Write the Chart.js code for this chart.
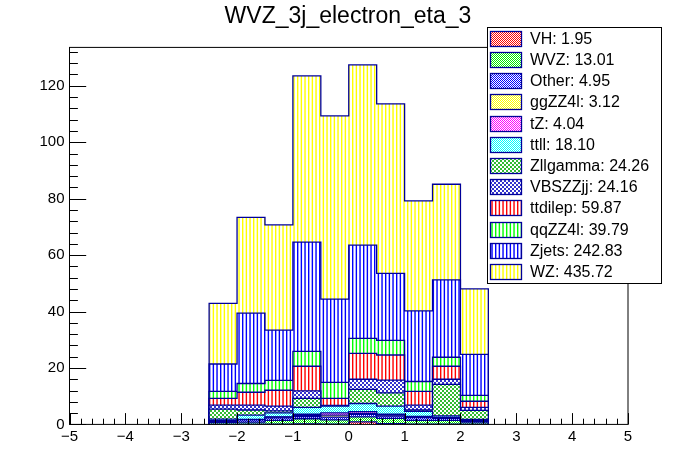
<!DOCTYPE html>
<html><head><meta charset="utf-8">
<script src="https://cdn.jsdelivr.net/npm/chart.js@4.4.1/dist/chart.umd.min.js"></script>
<style>html,body{margin:0;padding:0;background:#fff;}canvas{display:block}</style>
</head><body>
<canvas id="c" width="696" height="472" style="width:696px;height:472px"></canvas>
<script>
// ---- data ----
const titleText = 'WVZ_3j_electron_eta_3';
const binEdges = [-2.5,-2,-1.5,-1,-0.5,0,0.5,1,1.5,2,2.5];
const VH       = [0.1,0.1,0.1,0.2,0.1,0.9,0.3,0.1,0.1,0.1];
const WVZ      = [0.6,0.7,1.3,1.8,1.5,1.8,1.8,1.3,1.3,0.7];
const Other    = [0.4,0.8,0.9,0.8,1.0,0.9,0.8,1.0,0.7,0.3];
const ggZZ4l   = [0.1,0.1,0.3,0.4,0.7,0.3,0.4,0.2,0.2,0.1];
const tZ       = [0.1,0.1,0.1,0.4,0.8,0.6,0.3,0.2,0.2,0.1];
const ttll     = [0.6,1.5,1.4,2.4,2.4,2.9,2.9,1.8,0.5,0.5];
const Zllgamma = [3.5,1.8,0.7,3.2,0.1,5.0,4.7,0.5,11.2,3.2];
const VBSZZjj  = [1.4,1.7,1.7,2.7,0.1,3.6,4.5,1.7,1.8,1.0];
const ttdilep  = [2.4,4.6,5.6,8.7,2.5,9.2,8.9,4.9,4.6,2.2];
const qqZZ4l   = [2.5,3.1,3.5,5.3,5.7,5.3,5.2,3.5,3.2,2.1];
const Zjets    = [9.7,24.9,17.8,38.7,29.5,33.0,23.7,25.0,27.4,14.5];
const WZ       = [21.5,34.0,37.3,58.9,64.9,63.9,60.1,39.0,33.9,23.2];
const seriesNames = ['VH','WVZ','Other','ggZZ4l','tZ','ttll','Zllgamma','VBSZZjj','ttdilep','qqZZ4l','Zjets','WZ'];
const legendTotals = ['1.95','13.01','4.95','3.12','4.04','18.10','24.26','24.16','59.87','39.79','242.83','435.72'];
const xTickValues = [-5,-4,-3,-2,-1,0,1,2,3,4,5];
const xTickLabels = ['\u22125','\u22124','\u22123','\u22122','\u22121','0','1','2','3','4','5'];
const yTickValues = [0,20,40,60,80,100,120];
const yTickLabels = ['0','20','40','60','80','100','120'];

// ---- styles ----
const fillKinds  = ['check1','check1','check1','check1','check1','check1','check2','check2','vline','vline','vline','vline'];
const fillColors = ['#ff0000','#00ee00','#0000ff','#ffff00','#ff00ff','#00ffff','#33bb33','#3333cc','#ff0000','#00ff00','#0000ff','#ffff00'];
const outline = '#000099';
const FONT = "'Liberation Sans', Arial, Helvetica, sans-serif";

function makePattern(kind, color) {
  const c = document.createElement('canvas');
  let w = 2, h = 2;
  if (kind === 'check2') { w = 4; h = 4; }
  if (kind === 'vline') { w = 11; h = 4; }
  c.width = w; c.height = h;
  const g = c.getContext('2d');
  g.fillStyle = '#ffffff'; g.fillRect(0, 0, w, h);
  g.fillStyle = color;
  if (kind === 'check1') { g.fillRect(0,0,1,1); g.fillRect(1,1,1,1); }
  else if (kind === 'check2') { g.fillRect(0,0,2,2); g.fillRect(2,2,2,2); }
  else { [0, 11/3, 22/3].forEach(x => g.fillRect(x, 0, 1.4, h)); }
  return g.createPattern(c, 'repeat');
}

const layers = [VH, WVZ, Other, ggZZ4l, tZ, ttll, Zllgamma, VBSZZjj, ttdilep, qqZZ4l, Zjets, WZ];
let cum = new Array(layers[0].length).fill(0);
const datasets = layers.map((vals, k) => {
  cum = cum.map((c, i) => c + vals[i]);
  const pts = [{x: binEdges[0], y: 0}];
  cum.forEach((c, i) => pts.push({x: binEdges[i], y: c}));
  pts.push({x: binEdges[binEdges.length - 1], y: 0});
  return {
    label: seriesNames[k] + ': ' + legendTotals[k],
    data: pts,
    yAxisID: 'y',
    stepped: true,
    fill: 'origin',
    backgroundColor: makePattern(fillKinds[k], fillColors[k]),
    borderColor: outline,
    borderWidth: 1.3,
    pointRadius: 0,
    pointHoverRadius: 0,
    tension: 0
  };
});

const framePlugin = {
  id: 'rootFrame',
  afterDraw(chart) {
    const ctx = chart.ctx, a = chart.chartArea;
    const xs = chart.scales.x, ys = chart.scales.y;
    ctx.save();
    ctx.strokeStyle = '#000'; ctx.lineWidth = 1;
    ctx.strokeRect(a.left, a.top, a.right - a.left, a.bottom - a.top);
    ctx.beginPath();
    for (let v = 0; v <= ys.max + 1e-9; v += 4) {
      const y = Math.round(ys.getPixelForValue(v)) + 0.5;
      const len = (v % 20 === 0) ? 16.7 : 8.4;
      ctx.moveTo(a.left, y); ctx.lineTo(a.left + len, y);
    }
    for (let i = 0; i <= 50; i++) {
      const v = -5 + i * 0.2;
      const x = Math.round(xs.getPixelForValue(v)) + 0.5;
      const len = (i % 5 === 0) ? 11.3 : 5.7;
      ctx.moveTo(x, a.bottom); ctx.lineTo(x, a.bottom - len);
    }
    ctx.stroke();
    // legend
    const lx = 487.5, ly = 27.5, lw = 174, lh = 256;
    ctx.fillStyle = '#fff';
    ctx.fillRect(lx, ly, lw, lh);
    ctx.strokeStyle = '#000';
    ctx.strokeRect(lx, ly, lw, lh);
    ctx.font = '16px ' + FONT;
    ctx.textBaseline = 'middle';
    ctx.textAlign = 'left';
    chart.data.datasets.forEach((ds, i) => {
      const cy = 38.3 + 21.2 * i;
      ctx.fillStyle = ds.backgroundColor;
      ctx.fillRect(490.5, Math.round(cy - 7.5) + 0.5, 31, 15);
      ctx.strokeStyle = outline; ctx.lineWidth = 1.3;
      ctx.strokeRect(490.5, Math.round(cy - 7.5) + 0.5, 31, 15);
      ctx.fillStyle = '#000';
      ctx.fillText(ds.label, 530, cy + 1);
    });
    ctx.restore();
  }
};

new Chart(document.getElementById('c'), {
  type: 'line',
  data: { datasets },
  plugins: [framePlugin],
  options: {
    responsive: false,
    animation: false,
    devicePixelRatio: 1,
    events: [],
    layout: { padding: 0 },
    plugins: {
      legend: { display: false },
      tooltip: { enabled: false },
      filler: { drawTime: 'beforeDatasetDraw' },
      title: {
        display: true, text: titleText, color: '#000',
        font: { family: FONT, size: 23, weight: 'normal' },
        padding: { top: 3, bottom: 16.8 }
      }
    },
    scales: {
      x: {
        type: 'linear', min: -5, max: 5,
        grid: { display: false, drawTicks: false, tickLength: 0 },
        border: { display: false },
        afterBuildTicks(s) { s.ticks = xTickValues.map(v => ({ value: v })); },
        afterFit(s) { s.height = 47.6; },
        ticks: {
          color: '#000', padding: 3, maxRotation: 0, autoSkip: false,
          font: { family: FONT, size: 15 },
          callback: (v) => { const i = xTickValues.indexOf(v); return i >= 0 ? xTickLabels[i] : ''; }
        }
      },
      y: {
        type: 'linear', position: 'left', min: 0, max: 133.6,
        grid: { display: false, drawTicks: false, tickLength: 0 },
        border: { display: false },
        afterBuildTicks(s) { s.ticks = yTickValues.map(v => ({ value: v })); },
        afterFit(s) { s.width = 69.5; },
        ticks: {
          color: '#000', padding: 5, autoSkip: false,
          font: { family: FONT, size: 15 },
          callback: (v) => { const i = yTickValues.indexOf(v); return i >= 0 ? yTickLabels[i] : ''; }
        }
      },
      yRight: {
        type: 'linear', position: 'right', min: 0, max: 1,
        grid: { display: false, drawTicks: false, tickLength: 0 },
        border: { display: false },
        ticks: { display: false },
        afterFit(s) { s.width = 68; }
      }
    }
  }
});
</script>
</body></html>
